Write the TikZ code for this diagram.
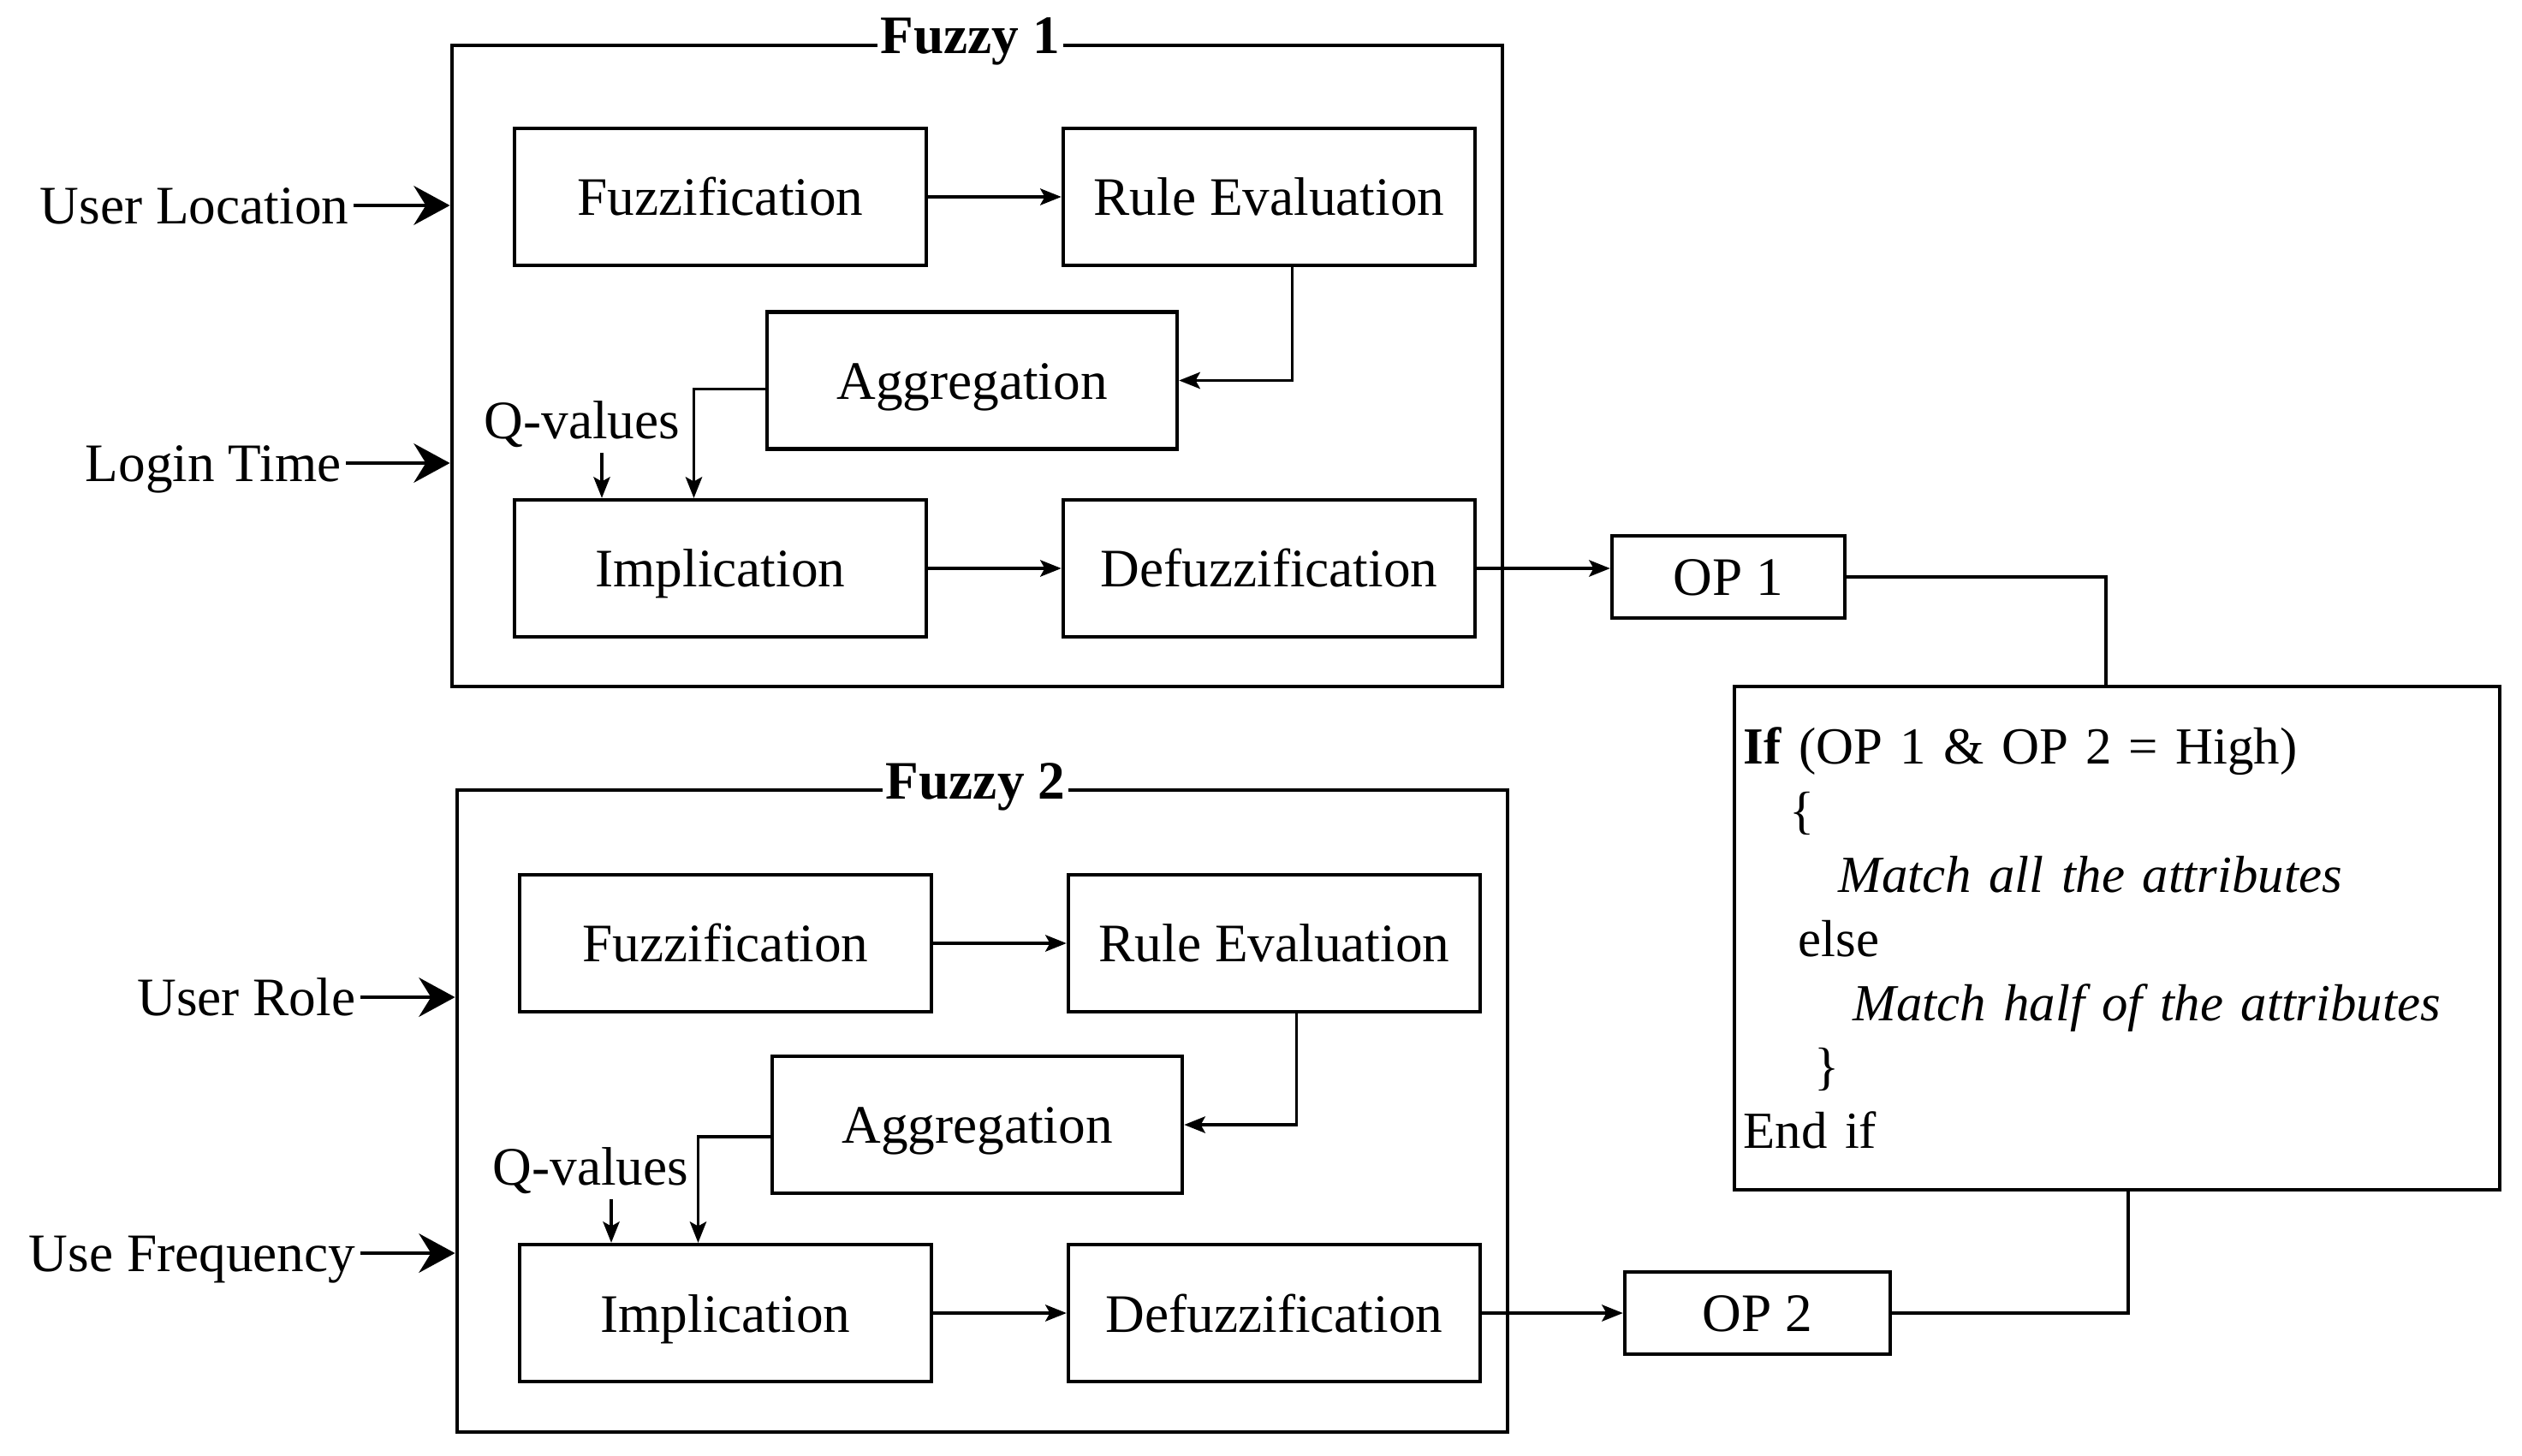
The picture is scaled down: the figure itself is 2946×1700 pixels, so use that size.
\documentclass[tikz,border=0pt]{standalone}
\usepackage{fontspec}
\setmainfont{Liberation Serif}
\usepackage{tikz}
\usetikzlibrary{arrows.meta}

\tikzset{
  every node/.style={font=\fontsize{18}{21.3}\selectfont},
  blk/.style={draw, line width=1.2pt, minimum width=4.81cm, minimum height=1.6cm, text height=12.5pt, text depth=0pt},
  grp/.style={draw, line width=1.2pt, minimum width=12.27cm, minimum height=7.49cm},
  opbox/.style={draw, line width=1.2pt, minimum height=0.96cm, text height=12pt, text depth=0pt},
  grptitle/.style={fill=white, inner xsep=1pt, inner ysep=0pt, anchor=base},
  inlabel/.style={anchor=east, inner xsep=0.05cm, inner ysep=0pt, text height=12pt, text depth=0pt},
  inarrow/.style={-{Stealth[length=12pt,width=13pt,inset=4pt]}, line width=1.2pt},
  flow/.style={-{Stealth[length=7pt,width=5.5pt,inset=1.5pt]}, line width=1pt},
  link/.style={line width=1pt}
}

\begin{document}
\begin{tikzpicture}[x=0.01cm, y=-0.01cm]
\useasboundingbox (0,0) rectangle (2946,1700);

\node[grp] (f1) at (1141.5,427.5) {};
\node[grptitle] (t1) at ([xshift=-0.08cm, yshift=-0.12cm]f1.north) {\bfseries Fuzzy 1};
\node[blk] (fz1) at (841.5,230) {Fuzzification};
\node[blk] (re1) at (1482.5,230) {Rule Evaluation};
\node[blk, minimum width=4.79cm] (ag1) at (1135.5,444.5) {Aggregation};
\node[blk] (im1) at (841.5,664) {Implication};
\node[blk] (df1) at (1482.5,664) {Defuzzification};
\node[inner sep=0.05cm] (qv1) at (680,496) {Q-values};

\node[inlabel] (uloc) at (413,240) {User Location};
\node[inlabel] (ltime) at (404,541) {Login Time};
\draw[inarrow] (uloc.east) -- (uloc.east -| f1.west);
\draw[inarrow] (ltime.east) -- (ltime.east -| f1.west);

\draw[flow] (fz1) -- (re1);
\draw[flow] ([xshift=0.27cm]re1.south) |- (ag1.east);
\draw[flow] ([yshift=-0.1cm]ag1.west) -| ([xshift=-0.31cm]im1.north);
\draw[flow] ([xshift=0.23cm]qv1.south) -- ([xshift=0.23cm]qv1.south |- im1.north);
\draw[flow] (im1) -- (df1);

\node[grp] (f2) at (1147.5,1298) {};
\node[grptitle] (t2) at ([xshift=-0.08cm, yshift=-0.12cm]f2.north) {\bfseries Fuzzy 2};
\node[blk] (fz2) at (847.5,1102) {Fuzzification};
\node[blk] (re2) at (1488.5,1102) {Rule Evaluation};
\node[blk, minimum width=4.79cm] (ag2) at (1141.5,1314) {Aggregation};
\node[blk] (im2) at (847.5,1534) {Implication};
\node[blk] (df2) at (1488.5,1534) {Defuzzification};
\node[inner sep=0.05cm] (qv2) at (690,1368) {Q-values};

\node[inlabel] (urole) at (421,1165) {User Role};
\node[inlabel] (ufreq) at (421,1464) {Use Frequency};
\draw[inarrow] (urole.east) -- (urole.east -| f2.west);
\draw[inarrow] (ufreq.east) -- (ufreq.east -| f2.west);

\draw[flow] (fz2) -- (re2);
\draw[flow] ([xshift=0.26cm]re2.south) |- (ag2.east);
\draw[flow] ([yshift=-0.14cm]ag2.west) -| ([xshift=-0.32cm]im2.north);
\draw[flow] ([xshift=0.24cm]qv2.south) -- ([xshift=0.24cm]qv2.south |- im2.north);
\draw[flow] (im2) -- (df2);

\node[opbox, minimum width=2.72cm] (op1) at (2019,674) {OP 1};
\node[opbox, minimum width=3.1cm] (op2) at (2053,1534) {OP 2};
\node[draw, line width=1.2pt, minimum width=8.94cm, minimum height=5.88cm,
      text width=8.72cm, inner xsep=0.11cm, align=left,
      font=\fontsize{17.3}{21.3}\selectfont] (cond) at (2473,1096)
  {\textbf{If} (OP 1 \& OP 2 = High)\\
   \hspace*{0.54cm}\{\\
   \hspace*{1.11cm}\textit{Match all the attributes}\\
   \hspace*{0.64cm}else\\
   \hspace*{1.28cm}\textit{Match half of the attributes}\\
   \hspace*{0.83cm}\}\\
   End if};

\draw[flow] (df1.east) -- (df1.east -| op1.west);
\draw[flow] (df2.east) -- (df2.east -| op2.west);
\draw[link] (op1.east) -| ([xshift=-0.13cm]cond.north);
\draw[link] (op2.east) -| ([xshift=0.13cm]cond.south);
\end{tikzpicture}
\end{document}
